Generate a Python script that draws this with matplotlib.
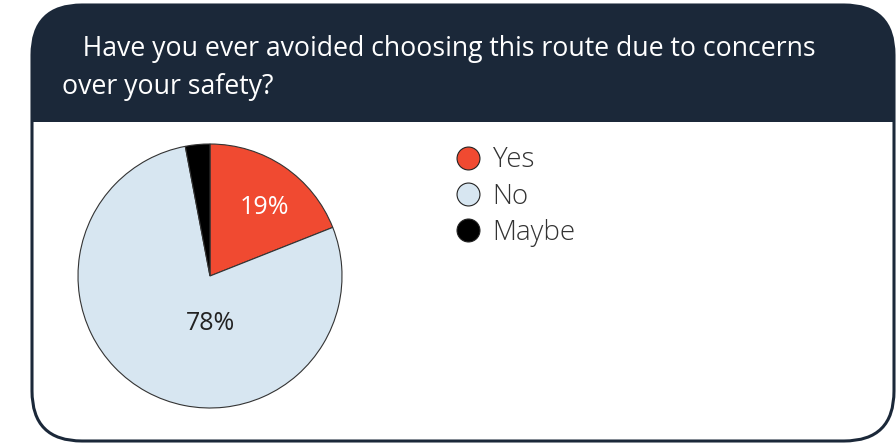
import matplotlib
matplotlib.use("Agg")
import matplotlib.pyplot as plt
from matplotlib.patches import FancyBboxPatch, Rectangle

# survey answers
answers = ["Yes", "No", "Maybe"]
shares = [19, 78, 3]
slice_colors = ["#f04a31", "#d7e6f1", "#000000"]
question = "   Have you ever avoided choosing this route due to concerns\nover your safety?"

NAVY = "#1b2839"
FONT = "Open Sans"
W, H = 896, 443

fig = plt.figure(figsize=(W / 100, H / 100), dpi=100)

# card background in pixel coordinates
bg = fig.add_axes([0, 0, 1, 1])
bg.set_xlim(0, W)
bg.set_ylim(H, 0)
bg.axis("off")

card = FancyBboxPatch((32 + 50, 5 + 50), 862 - 100, 436 - 100,
                      boxstyle="round,pad=50", facecolor=NAVY,
                      edgecolor="none", zorder=1)
bg.add_patch(card)
body = Rectangle((0, 122), W, H - 122, facecolor="white", edgecolor="none", zorder=2)
body.set_clip_path(card)
bg.add_patch(body)
outline = FancyBboxPatch((32 + 50, 5 + 50), 862 - 100, 436 - 100,
                         boxstyle="round,pad=50", facecolor="none",
                         edgecolor=NAVY, linewidth=2.2, zorder=3)
bg.add_patch(outline)

bg.text(62, 68, question, color="white", fontsize=19.2, family=FONT,
        va="center", ha="left", linespacing=1.45, zorder=4)

# pie chart
ax = fig.add_axes([78 / W, 35 / H, 264 / W, 264 / H])
wedges, texts, pcts = ax.pie(
    shares, colors=slice_colors, startangle=90, counterclock=False,
    autopct="%d%%", wedgeprops=dict(edgecolor="#333333", linewidth=0.8),
    textprops=dict(fontsize=18, family=FONT))
pcts[0].set_position((0.41, 0.52))
pcts[0].set_color("white")
pcts[1].set_position((0.0, -0.36))
pcts[1].set_color("#222222")
pcts[2].set_visible(False)
ax.set_xlim(-1.0, 1.0)
ax.set_ylim(-1.0, 1.0)
ax.set_aspect("equal")

# legend with round markers
handles = [plt.Line2D([], [], marker="o", linestyle="none", markersize=16.5,
                      markerfacecolor=c, markeredgecolor="#222222",
                      markeredgewidth=0.8) for c in slice_colors]
fig.legend(handles, answers, loc="upper left", bbox_to_anchor=(444 / W, 1 - 138 / H),
           frameon=False, handlelength=1.1, handletextpad=0.35, labelspacing=0.3,
           borderaxespad=0, borderpad=0.3,
           prop=dict(family=FONT, size=20, weight="light"), labelcolor="#333333")

fig.savefig("out.png", dpi=100)
